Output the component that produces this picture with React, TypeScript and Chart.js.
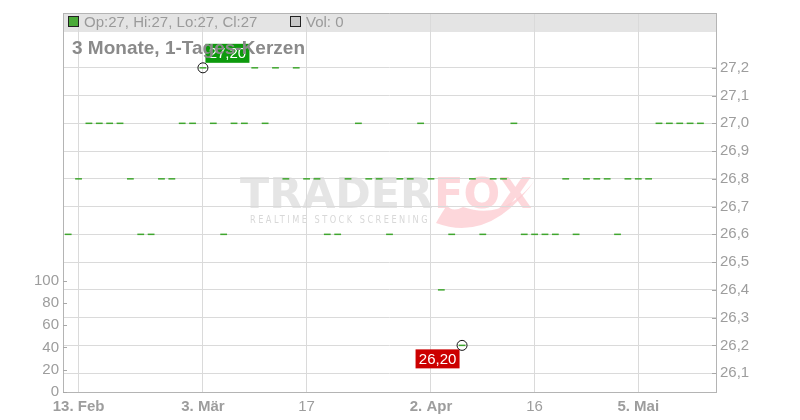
import React, { useEffect, useRef } from "react";
import { Chart, registerables } from "chart.js";

Chart.register(...registerables);

// ---- data ----
const dates = [
  "2025-02-12", "2025-02-13", "2025-02-14", "2025-02-17", "2025-02-18", "2025-02-19", "2025-02-20", "2025-02-21",
  "2025-02-24", "2025-02-25", "2025-02-26", "2025-02-27", "2025-02-28",
  "2025-03-03", "2025-03-04", "2025-03-05", "2025-03-06", "2025-03-07", "2025-03-10", "2025-03-11", "2025-03-12",
  "2025-03-13", "2025-03-14", "2025-03-17", "2025-03-18", "2025-03-19", "2025-03-20", "2025-03-21", "2025-03-24",
  "2025-03-25", "2025-03-26", "2025-03-27", "2025-03-28", "2025-03-31",
  "2025-04-01", "2025-04-02", "2025-04-03", "2025-04-04", "2025-04-07", "2025-04-08", "2025-04-09", "2025-04-10",
  "2025-04-11", "2025-04-14", "2025-04-15", "2025-04-16", "2025-04-17", "2025-04-22", "2025-04-23", "2025-04-24",
  "2025-04-25", "2025-04-28", "2025-04-29", "2025-04-30",
  "2025-05-02", "2025-05-05", "2025-05-06", "2025-05-07", "2025-05-08", "2025-05-09", "2025-05-12", "2025-05-13",
  "2025-05-14",
];

// open = high = low = close on every day
const closes: (number | null)[] = [
  26.6, 26.8, 27.0, 27.0, 27.0, 27.0, 26.8, 26.6, 26.6, 26.8, 26.8, 27.0, 27.0,
  27.2, 27.0, 26.6, 27.0, 27.0, 27.2, 27.0, 27.2, 26.8, 27.2, 26.8, 26.8, 26.6,
  26.6, 26.8, 27.0, 26.8, 26.8, 26.6, 26.8, 26.8, 27.0, 26.8, 26.4, 26.6, 26.2,
  26.8, 26.6, 26.8, 26.8, 27.0, 26.6, 26.6, 26.6, 26.6, 26.8, 26.6, 26.8, 26.8,
  26.8, 26.6, 26.8, 26.8, 26.8, 27.0, 27.0, 27.0, 27.0, 27.0, null,
];

const volumes: (number | null)[] = [
  0, 0, 0, 0, 0, 0, 0, 0, 0, 0, 0, 0, 0, 0, 0, 0, 0, 0, 0, 0, 0,
  0, 0, 0, 0, 0, 0, 0, 0, 0, 0, 0, 0, 0, 0, 0, 0, 0, 0, 0, 0, 0,
  0, 0, 0, 0, 0, 0, 0, 0, 0, 0, 0, 0, 0, 0, 0, 0, 0, 0, 0, 0, null,
];

const tickDates = ["2025-02-13", "2025-03-03", "2025-03-17", "2025-04-02", "2025-04-16", "2025-05-05"];
const tickTexts = ["13. Feb", "3. Mär", "17", "2. Apr", "16", "5. Mai"];

const titleText = "3 Monate, 1-Tages-Kerzen";
const legendText = "Op:27, Hi:27, Lo:27, Cl:27";
const volLegendText = "Vol: 0";

const FONT = "'Liberation Sans', Arial, Helvetica, sans-serif";
const GREEN = "#3fa62e";
const GRID = "#dadada";
const BORDER = "#b4b4b4";
const TICK_TEXT = "#9d9d9d";

function fmt(v: number, d: number) {
  return v.toFixed(d).replace(".", ",");
}

function fitText(ctx: CanvasRenderingContext2D, s: string, x: number, y: number, w: number, color: string) {
  const m = ctx.measureText(s).width;
  ctx.save();
  ctx.translate(x, y);
  ctx.scale(w / m, 1);
  ctx.fillStyle = color;
  ctx.fillText(s, 0, 0);
  ctx.restore();
}

function drawWatermark(ctx: CanvasRenderingContext2D) {
  ctx.save();
  ctx.textBaseline = "alphabetic";
  ctx.textAlign = "left";
  ctx.font = `bold 43px 'DejaVu Sans'`;
  fitText(ctx, "TRADER", 240, 208, 193, "#e5e5e5");
  fitText(ctx, "FOX", 434, 208, 98, "rgba(252,205,210,0.8)");
  ctx.fillStyle = "rgba(252,205,210,0.8)";
  ctx.beginPath();
  ctx.moveTo(436, 223);
  ctx.quadraticCurveTo(492, 244, 538, 176);
  ctx.quadraticCurveTo(506, 222, 463, 207);
  ctx.quadraticCurveTo(452, 213, 447, 205);
  ctx.quadraticCurveTo(441, 214, 436, 223);
  ctx.closePath();
  ctx.fill();
  ctx.font = `10px 'DejaVu Sans'`;
  (ctx as any).letterSpacing = "3px";
  fitText(ctx, "REALTIME STOCK SCREENING", 250, 222.5, 180, "#d8d8d8");
  ctx.restore();
}

function drawBox(ctx: CanvasRenderingContext2D, text: string, x: number, y: number, w: number, h: number, bg: string) {
  ctx.fillStyle = bg;
  ctx.fillRect(x, y, w, h);
  ctx.fillStyle = "#ffffff";
  ctx.font = `15px ${FONT}`;
  ctx.textAlign = "center";
  ctx.textBaseline = "middle";
  ctx.fillText(text, x + w / 2, y + h / 2 + 1);
}

const decorPlugin = {
  id: "decor",
  beforeDraw(chart: any) {
    const { ctx, chartArea: a } = chart;
    ctx.save();
    ctx.fillStyle = "#e4e4e4";
    ctx.fillRect(a.left, a.top, a.right - a.left, 19);
    drawWatermark(ctx);
    ctx.restore();
  },
  afterDatasetsDraw(chart: any) {
    const { ctx } = chart;
    const xs = chart.scales.x;
    const ys = chart.scales.y;
    let maxI = -1;
    let minI = -1;
    closes.forEach((v, i) => {
      if (v == null) return;
      if (maxI < 0 || v > (closes[maxI] as number)) maxI = i;
      if (minI < 0 || v < (closes[minI] as number)) minI = i;
    });
    ctx.save();
    const mx = xs.getPixelForValue(maxI);
    const my = ys.getPixelForValue(closes[maxI]);
    const nx = xs.getPixelForValue(minI);
    const ny = ys.getPixelForValue(closes[minI]);
    drawBox(ctx, fmt(closes[maxI] as number, 2), mx + 2.5, my - 24, 44, 19, "#0d9a0d");
    drawBox(ctx, fmt(closes[minI] as number, 2), nx - 46.5, ny + 4, 44, 19, "#cc0000");
    ctx.strokeStyle = "#111";
    ctx.lineWidth = 1;
    for (const [px, py] of [[mx, my], [nx, ny]]) {
      ctx.beginPath();
      ctx.arc(px, py, 5, 0, Math.PI * 2);
      ctx.stroke();
    }
    ctx.restore();
  },
  afterDraw(chart: any) {
    const { ctx, chartArea: a } = chart;
    ctx.save();
    // top border
    ctx.strokeStyle = BORDER;
    ctx.lineWidth = 1;
    ctx.beginPath();
    ctx.moveTo(a.left, a.top + 0.5);
    ctx.lineTo(a.right, a.top + 0.5);
    ctx.stroke();
    // inward tick marks
    ctx.strokeStyle = "#a8a8a8";
    const vol = chart.scales.vol;
    vol.ticks.forEach((t: any) => {
      if (t.value > 100) return;
      const y = Math.round(vol.getPixelForValue(t.value)) + 0.5;
      ctx.beginPath();
      ctx.moveTo(a.left, y);
      ctx.lineTo(a.left + 4, y);
      ctx.stroke();
    });
    const ys = chart.scales.y;
    ys.ticks.forEach((t: any) => {
      if (t.value > 27.25) return;
      const y = Math.round(ys.getPixelForValue(t.value)) + 0.5;
      ctx.beginPath();
      ctx.moveTo(a.right - 4, y);
      ctx.lineTo(a.right, y);
      ctx.stroke();
    });
    // legend in header band
    ctx.textAlign = "left";
    ctx.textBaseline = "alphabetic";
    ctx.fillStyle = "#4aaa38";
    ctx.fillRect(68.5, 16.5, 10, 10);
    ctx.strokeStyle = "#222";
    ctx.strokeRect(68.5, 16.5, 10, 10);
    ctx.fillStyle = "#c8c8c8";
    ctx.fillRect(290.5, 16.5, 10, 10);
    ctx.strokeRect(290.5, 16.5, 10, 10);
    ctx.font = `15px ${FONT}`;
    ctx.fillStyle = "#9a9a9a";
    ctx.fillText(legendText, 84, 26.5);
    ctx.fillText(volLegendText, 306, 26.5);
    // title
    ctx.font = `bold 19px ${FONT}`;
    ctx.fillStyle = "#8a8a8a";
    ctx.fillText(titleText, 72, 54);
    ctx.restore();
  },
};

export default function App() {
  const ref = useRef<HTMLCanvasElement | null>(null);
  useEffect(() => {
    if (!ref.current) return;
    const chart = new Chart(ref.current, {
      type: "line",
      data: {
        labels: dates,
        datasets: [
          {
            type: "line",
            label: "Kerzen",
            data: closes,
            yAxisID: "y",
            showLine: false,
            pointStyle: "line",
            pointRadius: 3.4,
            pointBorderWidth: 1.5,
            pointBorderColor: GREEN,
            pointBackgroundColor: GREEN,
            pointHoverRadius: 3.4,
          } as any,
          {
            type: "bar",
            label: "Vol",
            data: volumes,
            yAxisID: "vol",
            backgroundColor: "#c8c8c8",
          } as any,
        ],
      },
      options: {
        responsive: false,
        animation: false,
        events: [],
        layout: { padding: { top: 11, left: 0, right: 0, bottom: 0 } },
        plugins: { legend: { display: false }, tooltip: { enabled: false } },
        scales: {
          x: {
            type: "category",
            offset: true,
            grid: { offset: false, color: GRID, drawTicks: false },
            border: { display: true, color: BORDER },
            ticks: {
              autoSkip: false,
              maxRotation: 0,
              padding: 6,
              color: TICK_TEXT,
              font: (c: any) => {
                const d = dates[c.tick?.value];
                const k = tickDates.indexOf(d);
                const bold = k >= 0 && tickTexts[k].includes(". ");
                return { family: FONT, size: 15, weight: bold ? "bold" : "normal" } as any;
              },
              callback: (v: any) => {
                const k = tickDates.indexOf(dates[v as number]);
                return k >= 0 ? tickTexts[k] : null;
              },
            },
            afterFit: (s: any) => {
              s.height = 28;
            },
          },
          y: {
            type: "linear",
            position: "right",
            min: 26.032,
            max: 27.3975,
            grid: { color: GRID, drawTicks: false },
            border: { display: true, color: BORDER },
            ticks: {
              stepSize: 0.1,
              includeBounds: false,
              padding: 4,
              color: TICK_TEXT,
              font: { family: FONT, size: 15 },
              callback: (v: any) => (v > 27.25 ? null : fmt(v, 1)),
            },
            afterFit: (s: any) => {
              s.width = 84;
            },
          },
          vol: {
            type: "linear",
            position: "left",
            min: 0,
            max: 340,
            grid: { drawOnChartArea: false, drawTicks: false },
            border: { display: true, color: BORDER },
            ticks: {
              stepSize: 20,
              includeBounds: false,
              padding: 4,
              color: TICK_TEXT,
              font: { family: FONT, size: 15 },
              callback: (v: any) => (v > 100 ? null : String(v)),
            },
            afterFit: (s: any) => {
              s.width = 63;
            },
          },
        },
      } as any,
      plugins: [decorPlugin],
    });
    return () => chart.destroy();
  }, []);
  return (
    <div style={{ position: "absolute", left: 0, top: 0, width: 800, height: 420 }}>
      <canvas ref={ref} width={800} height={420} style={{ display: "block" }} />
    </div>
  );
}
